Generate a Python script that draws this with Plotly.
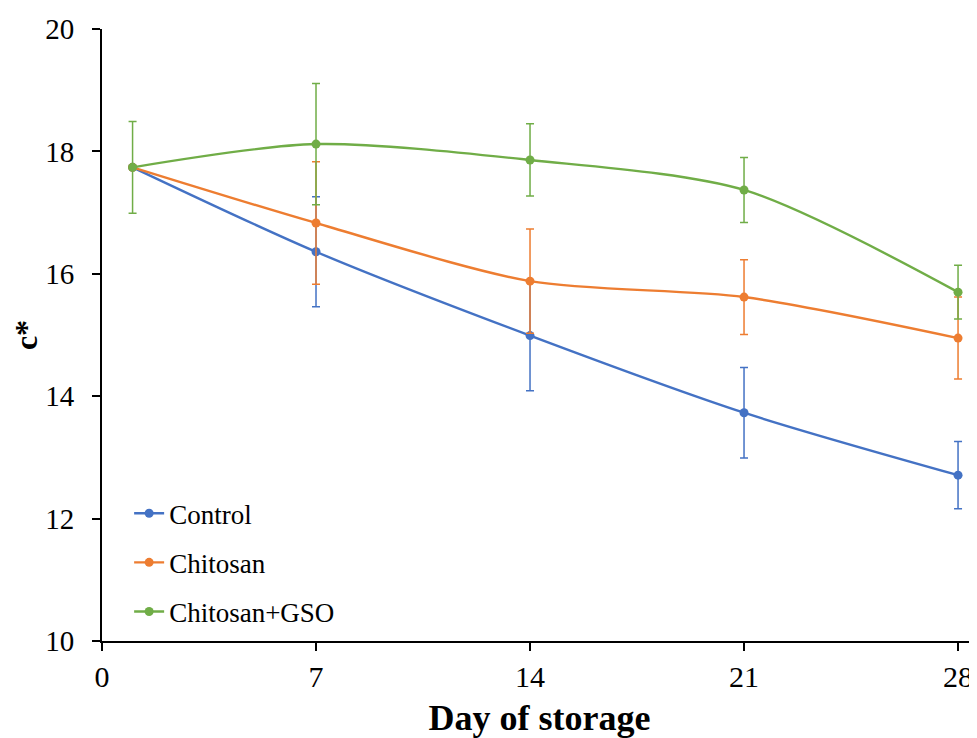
import plotly.graph_objects as go

days = [1, 7, 14, 21, 28]
control = [17.74, 16.36, 14.99, 13.73, 12.71]
control_err = [0.0, 0.90, 0.90, 0.74, 0.55]
chitosan = [17.74, 16.83, 15.88, 15.62, 14.95]
chitosan_err = [0.0, 1.00, 0.85, 0.61, 0.67]
gso = [17.74, 18.12, 17.86, 17.37, 15.70]
gso_err = [0.75, 0.99, 0.59, 0.53, 0.44]

x_ticks = [0, 7, 14, 21, 28]
y_ticks = [10, 12, 14, 16, 18, 20]

series = [
    ("Control", control, control_err, "#4472C4"),
    ("Chitosan", chitosan, chitosan_err, "#ED7D31"),
    ("Chitosan+GSO", gso, gso_err, "#70AD47"),
]

fig = go.Figure()
for name, vals, errs, col in series:
    fig.add_trace(go.Scatter(
        x=days, y=vals, name=name, legendgroup=name, mode="lines+markers",
        line=dict(color=col, width=2.4, shape="spline", smoothing=0.8),
        marker=dict(color=col, size=9),
        error_y=dict(type="data", array=errs, visible=True, color=col,
                     thickness=1.5, width=4),
    ))

font_family = "Liberation Serif"
fig.update_layout(
    width=969, height=730,
    margin=dict(l=94, r=0, t=21, b=97),
    plot_bgcolor="white", paper_bgcolor="white",
    font=dict(family=font_family, size=22, color="black"),
    showlegend=True,
    legend=dict(x=0.031, y=0.248, xanchor="left", yanchor="top",
                font=dict(family=font_family, size=27, color="black"),
                bgcolor="rgba(0,0,0,0)", tracegroupgap=11,
                itemwidth=30),
    xaxis=dict(range=[0, 28.62], tickvals=x_ticks, showgrid=False, zeroline=False,
               showline=True, linecolor="black", linewidth=2,
               ticks="outside", ticklen=8, tickwidth=1.5, tickcolor="black",
               ticklabelstandoff=0,
               tickfont=dict(family=font_family, size=30),
               title=dict(text="<b>Day of storage</b>",
                          font=dict(family=font_family, size=36), standoff=20)),
    yaxis=dict(range=[10, 20], tickvals=y_ticks, showgrid=False, zeroline=False,
               showline=True, linecolor="black", linewidth=2,
               ticks="outside", ticklen=8, tickwidth=1.5, tickcolor="black",
               ticklabelstandoff=12,
               tickfont=dict(family=font_family, size=29),
               title=dict(text="<b>c*</b>",
                          font=dict(family=font_family, size=32), standoff=14)),
)

fig.write_html("out.html")
